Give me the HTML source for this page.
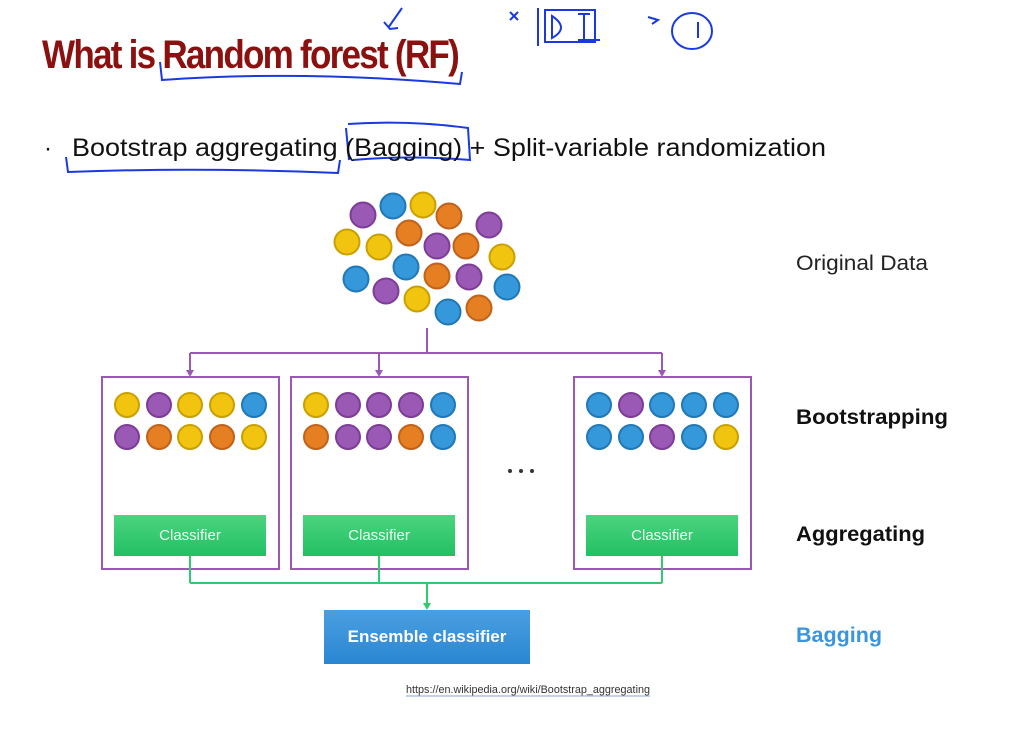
<!DOCTYPE html>
<html><head><meta charset="utf-8"><style>
html,body{margin:0;padding:0;background:#fff;}
svg{display:block;font-family:"Liberation Sans","DejaVu Sans",sans-serif;}
</style></head><body>
<svg width="1018" height="735" viewBox="0 0 1018 735" xmlns="http://www.w3.org/2000/svg">
<defs>
<linearGradient id="g" x1="0" y1="0" x2="0" y2="1"><stop offset="0" stop-color="#4cd47f"/><stop offset="1" stop-color="#22c063"/></linearGradient>
<linearGradient id="b" x1="0" y1="0" x2="0" y2="1"><stop offset="0" stop-color="#4a9fe0"/><stop offset="1" stop-color="#2a86d2"/></linearGradient>
</defs>
<rect width="1018" height="735" fill="#fff"/>
<text x="42" y="68" font-size="40" font-weight="bold" fill="#8b1010" textLength="416" lengthAdjust="spacingAndGlyphs" letter-spacing="-2">What is Random forest (RF)</text>
<g fill="none" stroke="#1a3ae0" stroke-width="2">
<path d="M160 62 L162 80 Q300 70 460 84 L462 72"/>
<path d="M402 8 L388 28 M384 22 L390 29 L398 28"/>
<path d="M538 8 L538 46 M545 10 L595 10 L595 42 L545 42 Z M552 16 Q570 28 552 38 Z M584 14 L584 40 M578 14 L590 14 M578 40 L600 40"/>
<path d="M510 12 L518 20 M518 12 L510 20 M648 17 L658 20 L652 24"/>
<ellipse cx="692" cy="31" rx="20" ry="18"/>
<path d="M698 22 L698 38"/>
<path d="M66 157 L68 172 Q200 167 338 173 L340 160"/>
<path d="M346 128 L349 160 M348 124 Q410 120 468 128 L470 160 Q410 155 353 160"/>
</g>
<text x="44" y="156" font-size="24" fill="#111">·</text>
<text x="72" y="156" font-size="25" fill="#111" textLength="754" lengthAdjust="spacingAndGlyphs">Bootstrap aggregating (Bagging) + Split-variable randomization</text>
<g stroke-width="2">
<g fill="#9b59b6" stroke="#7d3c98"><circle cx="363" cy="215" r="12.5"/><circle cx="489" cy="225" r="12.5"/><circle cx="437" cy="246" r="12.5"/><circle cx="469" cy="277" r="12.5"/><circle cx="386" cy="291" r="12.5"/></g>
<g fill="#3498db" stroke="#1f78b8"><circle cx="393" cy="206" r="12.5"/><circle cx="356" cy="279" r="12.5"/><circle cx="406" cy="267" r="12.5"/><circle cx="507" cy="287" r="12.5"/><circle cx="448" cy="312" r="12.5"/></g>
<g fill="#f1c40f" stroke="#c9a000"><circle cx="423" cy="205" r="12.5"/><circle cx="347" cy="242" r="12.5"/><circle cx="379" cy="247" r="12.5"/><circle cx="502" cy="257" r="12.5"/><circle cx="417" cy="299" r="12.5"/></g>
<g fill="#e67e22" stroke="#c0621a"><circle cx="449" cy="216" r="12.5"/><circle cx="409" cy="233" r="12.5"/><circle cx="466" cy="246" r="12.5"/><circle cx="437" cy="276" r="12.5"/><circle cx="479" cy="308" r="12.5"/></g>
</g>
<g fill="none" stroke="#9b59b6" stroke-width="2">
<path d="M427 328 L427 353 M190 353 L662 353 M190 353 L190 372 M379 353 L379 372 M662 353 L662 372"/>
<rect x="102" y="377" width="177" height="192"/>
<rect x="291" y="377" width="177" height="192"/>
<rect x="574" y="377" width="177" height="192"/>
</g>
<g fill="#9b59b6"><path d="M186 370 L194 370 L190 377 Z"/><path d="M375 370 L383 370 L379 377 Z"/><path d="M658 370 L666 370 L662 377 Z"/></g>
<g stroke-width="2">
<circle cx="127" cy="405" r="12" fill="#f1c40f" stroke="#c9a000"/><circle cx="159" cy="405" r="12" fill="#9b59b6" stroke="#7d3c98"/><circle cx="190" cy="405" r="12" fill="#f1c40f" stroke="#c9a000"/><circle cx="222" cy="405" r="12" fill="#f1c40f" stroke="#c9a000"/><circle cx="254" cy="405" r="12" fill="#3498db" stroke="#1f78b8"/>
<circle cx="127" cy="437" r="12" fill="#9b59b6" stroke="#7d3c98"/><circle cx="159" cy="437" r="12" fill="#e67e22" stroke="#c0621a"/><circle cx="190" cy="437" r="12" fill="#f1c40f" stroke="#c9a000"/><circle cx="222" cy="437" r="12" fill="#e67e22" stroke="#c0621a"/><circle cx="254" cy="437" r="12" fill="#f1c40f" stroke="#c9a000"/>
<circle cx="316" cy="405" r="12" fill="#f1c40f" stroke="#c9a000"/><circle cx="348" cy="405" r="12" fill="#9b59b6" stroke="#7d3c98"/><circle cx="379" cy="405" r="12" fill="#9b59b6" stroke="#7d3c98"/><circle cx="411" cy="405" r="12" fill="#9b59b6" stroke="#7d3c98"/><circle cx="443" cy="405" r="12" fill="#3498db" stroke="#1f78b8"/>
<circle cx="316" cy="437" r="12" fill="#e67e22" stroke="#c0621a"/><circle cx="348" cy="437" r="12" fill="#9b59b6" stroke="#7d3c98"/><circle cx="379" cy="437" r="12" fill="#9b59b6" stroke="#7d3c98"/><circle cx="411" cy="437" r="12" fill="#e67e22" stroke="#c0621a"/><circle cx="443" cy="437" r="12" fill="#3498db" stroke="#1f78b8"/>
<circle cx="599" cy="405" r="12" fill="#3498db" stroke="#1f78b8"/><circle cx="631" cy="405" r="12" fill="#9b59b6" stroke="#7d3c98"/><circle cx="662" cy="405" r="12" fill="#3498db" stroke="#1f78b8"/><circle cx="694" cy="405" r="12" fill="#3498db" stroke="#1f78b8"/><circle cx="726" cy="405" r="12" fill="#3498db" stroke="#1f78b8"/>
<circle cx="599" cy="437" r="12" fill="#3498db" stroke="#1f78b8"/><circle cx="631" cy="437" r="12" fill="#3498db" stroke="#1f78b8"/><circle cx="662" cy="437" r="12" fill="#9b59b6" stroke="#7d3c98"/><circle cx="694" cy="437" r="12" fill="#3498db" stroke="#1f78b8"/><circle cx="726" cy="437" r="12" fill="#f1c40f" stroke="#c9a000"/>
</g>
<g fill="#333"><circle cx="510" cy="471" r="2"/><circle cx="521" cy="471" r="2"/><circle cx="532" cy="471" r="2"/></g>
<g fill="url(#g)"><rect x="114" y="515" width="152" height="41"/><rect x="303" y="515" width="152" height="41"/><rect x="586" y="515" width="152" height="41"/></g>
<g fill="#eafff0" font-size="15" text-anchor="middle"><text x="190" y="540">Classifier</text><text x="379" y="540">Classifier</text><text x="662" y="540">Classifier</text></g>
<g fill="none" stroke="#2ecc71" stroke-width="2"><path d="M190 556 L190 583 M379 556 L379 583 M662 556 L662 583 M190 583 L662 583 M427 583 L427 604"/></g>
<path d="M423 603 L431 603 L427 610 Z" fill="#2ecc71"/>
<rect x="324" y="610" width="206" height="54" fill="url(#b)"/>
<text x="427" y="642" font-size="17" font-weight="bold" fill="#fff" text-anchor="middle">Ensemble classifier</text>
<text x="528" y="693" font-size="11" fill="#333" text-anchor="middle" textLength="244" lengthAdjust="spacingAndGlyphs">https://en.wikipedia.org/wiki/Bootstrap_aggregating</text>
<line x1="406" y1="696" x2="650" y2="696" stroke="#8aa0d0" stroke-width="1"/>
<text x="796" y="270" font-size="21" fill="#222" textLength="132" lengthAdjust="spacingAndGlyphs">Original Data</text>
<text x="796" y="424" font-size="21" font-weight="bold" fill="#111" textLength="152" lengthAdjust="spacingAndGlyphs">Bootstrapping</text>
<text x="796" y="541" font-size="21" font-weight="bold" fill="#111" textLength="129" lengthAdjust="spacingAndGlyphs">Aggregating</text>
<text x="796" y="642" font-size="21" font-weight="bold" fill="#3a95dc" textLength="86" lengthAdjust="spacingAndGlyphs">Bagging</text>
</svg>
</body></html>
